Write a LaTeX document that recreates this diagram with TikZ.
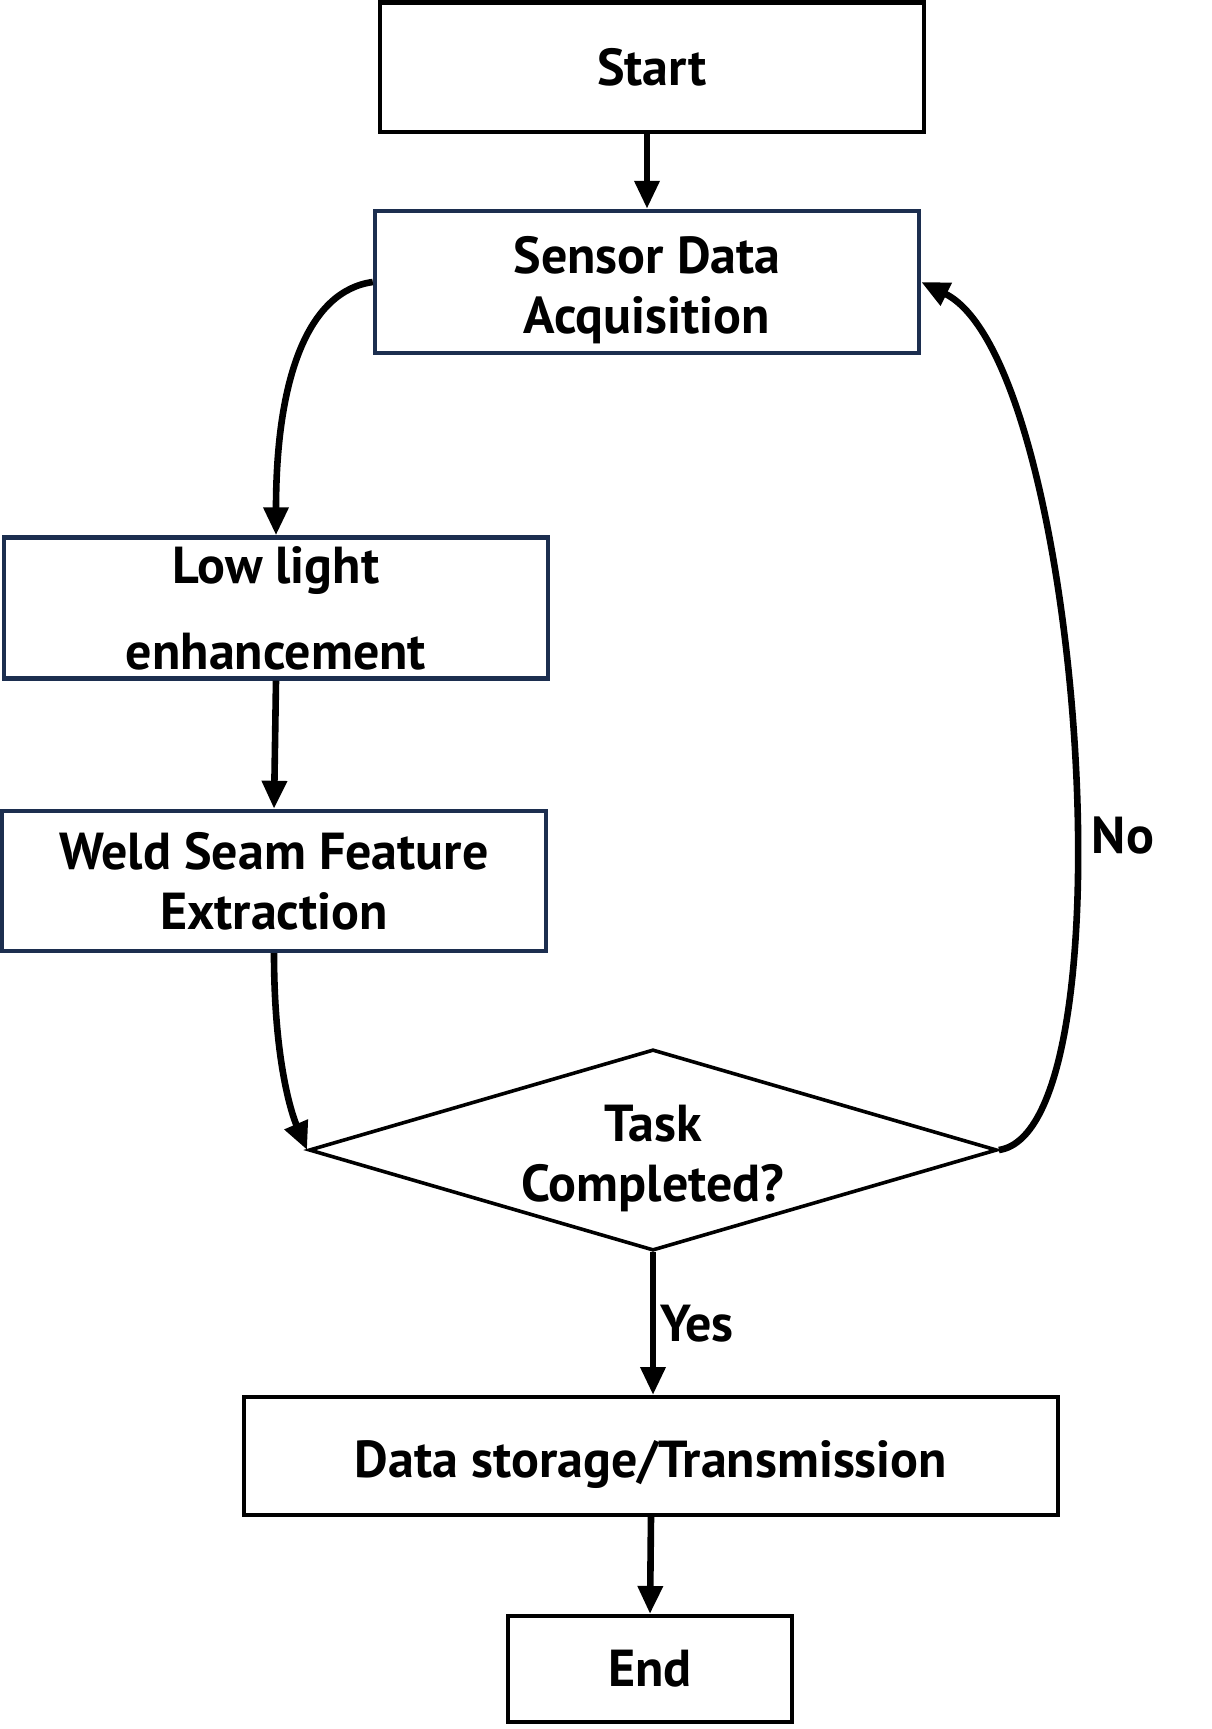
\documentclass[tikz,border=0pt]{standalone}
\usepackage{fontspec}
\setmainfont{PT Sans}
\usepackage{xcolor}
\usetikzlibrary{arrows.meta,positioning,shapes.geometric}
\definecolor{boxnavy}{HTML}{1C2E4F}
\newcommand{\lowerby}{\rule{0pt}{27pt}}

\begin{document}
\begin{tikzpicture}[
  x=0.5pt, y=-0.5pt,
  stepbox/.style={draw, line width=2pt, minimum width=272pt, minimum height=70pt, inner sep=0pt, font=\fontsize{26}{30}\selectfont\bfseries, align=center},
  procbox/.style={stepbox, draw=boxnavy, line width=2.2pt},
  decision/.style={diamond, draw, line width=1.8pt, aspect=3.42, minimum width=340.5pt, minimum height=99.5pt, inner sep=0pt, font=\fontsize{26}{30}\selectfont\bfseries, align=center},
  flowlabel/.style={font=\fontsize{26}{30}\selectfont\bfseries},
  flow/.style={line width=3.3pt, -{Triangle[length=14pt,width=12pt]}}
]
\useasboundingbox (0,0) rectangle (1211,1729);

% Main blocks
\node[stepbox, minimum height=64.5pt] (start) at (652,67) {Start};
\node[procbox, minimum height=71pt] (sensor) at (647,282) {\lowerby Sensor Data\\Acquisition};
\node[procbox, minimum height=70.5pt] (low) at (276,608) {Low light\\[13pt]enhancement};
\node[procbox] (weld) at (274,881) {Weld Seam Feature\\Extraction};
\node[decision] (dec) at (653,1150) {\lowerby Task\\Completed?};
\node[stepbox, minimum width=407pt, minimum height=59pt] (data) at (651,1456) {\lowerby Data storage/Transmission};
\node[stepbox, minimum width=142pt, minimum height=53pt] (end) at (650,1669) {End};

% Flow
\draw[flow] (sensor.north |- start.south) -- (sensor.north);
\draw[flow] (sensor.west) .. controls +(-65,9) and +(0,-157) .. (low.north);
\draw[flow] (low.south) -- (weld.north);
\draw[flow] (weld.south) .. controls +(0,109) and +(-15,-35) .. (dec.west);
\draw[flow] (dec.south) -- node[flowlabel, right, inner sep=2pt] {Yes} (dec.south |- data.north);
\draw[flow] (data.south) -- (end.north);

% Loop back
\draw[flow] (dec.east) .. controls +(136,-20) and +(161,79) .. (sensor.east);
\node[flowlabel] (nolbl) at (1123,836) {No};

\end{tikzpicture}
\end{document}
